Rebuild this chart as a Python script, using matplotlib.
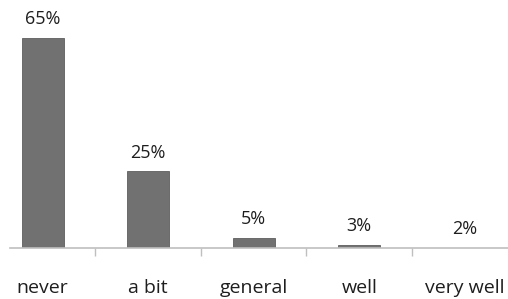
import numpy as np
import matplotlib.pyplot as plt

plt.rcParams['font.family'] = ['Open Sans', 'DejaVu Sans']

categories = ['never', 'a bit', 'general', 'well', 'very well']
percent = [65, 25, 5, 3, 2]

fig = plt.figure(figsize=(5.08, 2.99), dpi=100)
ax = fig.add_axes([10 / 508, 51 / 299, 498 / 508, 248 / 299])

x = np.arange(len(categories))
ax.bar(x, percent, width=0.4, color='#717171', edgecolor='#5e5e5e', linewidth=0.6)

for xi, v in zip(x, percent):
    ax.annotate(f'{v}%', (xi, v), xytext=(0, 7), textcoords='offset points',
                ha='center', va='bottom', fontsize=13, color='#1e1e1e')

ax.set_xlim(-0.31, 4.41)
ax.set_ylim(2, 76.4)

for s in ['top', 'right', 'left']:
    ax.spines[s].set_visible(False)
ax.spines['bottom'].set_color('#bfbfbf')
ax.spines['bottom'].set_linewidth(1.2)
ax.set_yticks([])

ax.set_xticks(x)
ax.set_xticklabels(categories, fontsize=14, color='#1e1e1e')
ax.tick_params(axis='x', which='major', length=0, pad=22)
ax.set_xticks(x[:-1] + 0.5, minor=True)
ax.tick_params(axis='x', which='minor', length=6, width=1, color='#bfbfbf', direction='out')

fig.savefig('out.png', dpi=100)
